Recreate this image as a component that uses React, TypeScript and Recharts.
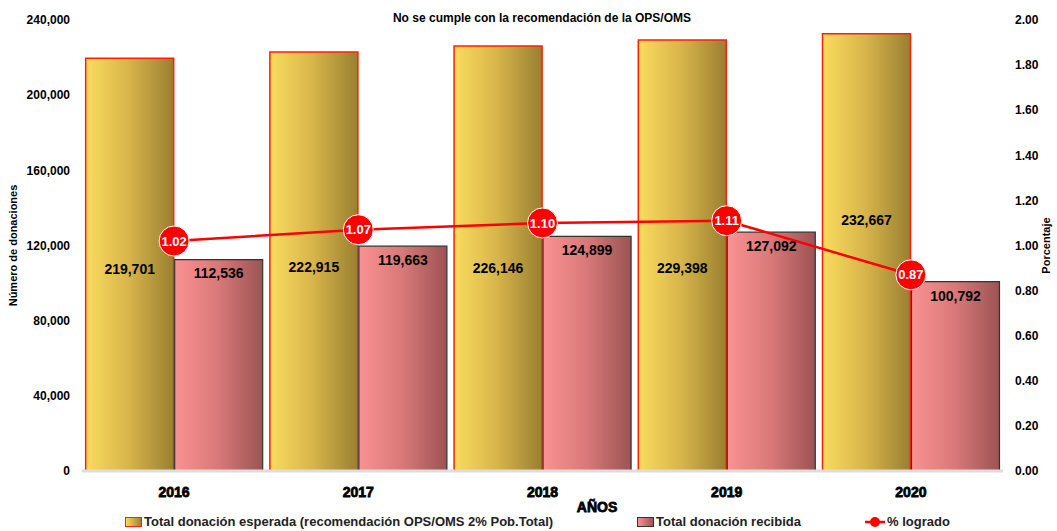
import React from 'react';
import {
  ComposedChart,
  Bar,
  Line,
  XAxis,
  YAxis,
  Legend,
  LabelList,
} from 'recharts';

const years = ['2016', '2017', '2018', '2019', '2020'];
const esperada = [219701, 222915, 226146, 229398, 232667];
const recibida = [112536, 119663, 124899, 127092, 100792];
const logrado = [1.02, 1.07, 1.1, 1.11, 0.87];
const leftTicks = [0, 40000, 80000, 120000, 160000, 200000, 240000];
const rightTicks = [0, 0.2, 0.4, 0.6, 0.8, 1.0, 1.2, 1.4, 1.6, 1.8, 2.0];

const data = years.map((year, i) => ({
  year,
  esperada: esperada[i],
  recibida: recibida[i],
  logrado: logrado[i],
}));

const FONT = '"Liberation Sans", Arial, sans-serif';

// manual nudges of the yellow bar labels (the last one sits higher, clear of the dot)
const esperadaLabelShift = [4, 5, 9, 13, -32];

const fmt = (v: number) => v.toLocaleString('en-US');

// big red dot with the value inside
const BigDot = (props: any) => {
  const { cx, cy } = props;
  if (cx == null || cy == null) return null;
  return <circle cx={cx} cy={cy} r={15} fill="#FF0000" stroke="#ffffff" strokeWidth={1} />;
};

const EsperadaLabel = (props: any) => {
  const { x, y, width, height, value, index } = props;
  const shift = esperadaLabelShift[index] || 0;
  return (
    <text
      x={x + width / 2}
      y={y + height / 2 + shift}
      textAnchor="middle"
      dominantBaseline="central"
      fontFamily={FONT}
      fontSize={14}
      fontWeight={700}
      fill="#000"
    >
      {fmt(value)}
    </text>
  );
};

const YearTick = (props: any) => {
  const { x, y, payload } = props;
  return (
    <text
      x={x}
      y={y + 18}
      textAnchor="middle"
      fontFamily={FONT}
      fontSize={14}
      fontWeight={700}
      fill="#000"
      stroke="#000"
      strokeWidth={0.8}
    >
      {payload.value}
    </text>
  );
};

const LegendContent = () => (
  <div
    style={{
      height: 22,
      fontFamily: FONT,
      fontSize: 13,
      fontWeight: 700,
      color: '#222',
      position: 'relative',
    }}
  >
    <span style={{ position: 'absolute', left: 125, top: 5, display: 'flex', alignItems: 'center' }}>
      <span
        style={{
          width: 15,
          height: 8,
          border: '1.5px solid #FF2000',
          background: 'linear-gradient(to right, #F8DA5C, #9C8232)',
          marginRight: 2,
        }}
      />
      Total donación esperada (recomendación OPS/OMS 2% Pob.Total)
    </span>
    <span style={{ position: 'absolute', left: 637, top: 5, display: 'flex', alignItems: 'center' }}>
      <span
        style={{
          width: 15,
          height: 8,
          border: '1.5px solid #333',
          background: 'linear-gradient(to right, #F99090, #9E5556)',
          marginRight: 2,
        }}
      />
      Total donación recibida
    </span>
    <span style={{ position: 'absolute', left: 865, top: 5, display: 'flex', alignItems: 'center' }}>
      <svg width={20} height={12} style={{ marginRight: 2 }}>
        <line x1={0} y1={6} x2={20} y2={6} stroke="#FF0000" strokeWidth={2.5} />
        <circle cx={10} cy={6} r={5} fill="#FF0000" />
      </svg>
      % logrado
    </span>
  </div>
);

export default function App() {
  return (
    <div style={{ position: 'absolute', left: 0, top: 0, width: 1057, height: 531, background: '#fff' }}>
      <div
        style={{
          position: 'absolute',
          top: 11,
          left: 0,
          width: 1084,
          textAlign: 'center',
          fontFamily: FONT,
          fontSize: 12,
          fontWeight: 700,
          color: '#000',
          zIndex: 2,
        }}
      >
        No se cumple con la recomendación de la OPS/OMS
      </div>
      <ComposedChart
        width={1057}
        height={531}
        data={data}
        margin={{ top: 20, right: 0, bottom: 0, left: 0 }}
        barCategoryGap="2%"
        barGap={1}
      >
        <defs>
          <linearGradient id="gradYellow" x1="0" y1="0" x2="1" y2="0">
            <stop offset="0%" stopColor="#FADC5E" />
            <stop offset="50%" stopColor="#D6B44A" />
            <stop offset="100%" stopColor="#9A7F30" />
          </linearGradient>
          <linearGradient id="gradPink" x1="0" y1="0" x2="1" y2="0">
            <stop offset="0%" stopColor="#FA9292" />
            <stop offset="50%" stopColor="#D97878" />
            <stop offset="100%" stopColor="#9C5354" />
          </linearGradient>
        </defs>
        <XAxis
          dataKey="year"
          axisLine={{ stroke: '#dddddd', strokeWidth: 3 }}
          tickLine={false}
          height={38}
          tick={<YearTick />}
          label={() => (
            <text
              x={597}
              y={512}
              textAnchor="middle"
              fontFamily={FONT}
              fontSize={14}
              fontWeight={700}
              fill="#000"
              stroke="#000"
              strokeWidth={0.8}
            >
              AÑOS
            </text>
          )}
        />
        <YAxis
          yAxisId="left"
          width={82}
          domain={[0, 240000]}
          ticks={leftTicks}
          axisLine={false}
          tickLine={false}
          tickFormatter={fmt}
          tick={{ fontFamily: FONT, fontSize: 12, fontWeight: 700, fill: '#000', dx: -4 }}
          label={{
            value: 'Número de donaciones',
            angle: -90,
            position: 'insideLeft',
            dx: 8,
            style: { fontFamily: FONT, fontSize: 11, fontWeight: 700, fill: '#000', textAnchor: 'middle' },
          }}
        />
        <YAxis
          yAxisId="right"
          orientation="right"
          width={54}
          domain={[0, 2]}
          ticks={rightTicks}
          axisLine={false}
          tickLine={false}
          tickFormatter={(v: number) => v.toFixed(2)}
          tick={{ fontFamily: FONT, fontSize: 12, fontWeight: 700, fill: '#000', dx: 4 }}
          label={{
            value: 'Porcentaje',
            angle: -90,
            position: 'insideRight',
            dx: -6,
            style: { fontFamily: FONT, fontSize: 11, fontWeight: 700, fill: '#000', textAnchor: 'middle' },
          }}
        />
        <Legend verticalAlign="bottom" height={22} content={<LegendContent />} />
        <Bar
          yAxisId="left"
          dataKey="esperada"
          fill="url(#gradYellow)"
          stroke="#FF2000"
          strokeWidth={1.5}
          isAnimationActive={false}
        >
          <LabelList dataKey="esperada" content={<EsperadaLabel />} />
        </Bar>
        <Bar
          yAxisId="left"
          dataKey="recibida"
          fill="url(#gradPink)"
          stroke="#333"
          strokeWidth={1.2}
          isAnimationActive={false}
        >
          <LabelList
            dataKey="recibida"
            position="insideTop"
            offset={9}
            formatter={(v: any) => fmt(v)}
            style={{ fontFamily: FONT, fontSize: 14, fontWeight: 700, fill: '#000' }}
          />
        </Bar>
        <Line
          yAxisId="right"
          dataKey="logrado"
          stroke="#FF0000"
          strokeWidth={2.5}
          dot={<BigDot />}
          activeDot={false}
          isAnimationActive={false}
        >
          <LabelList
            dataKey="logrado"
            position="center"
            formatter={(v: any) => Number(v).toFixed(2)}
            style={{ fontFamily: FONT, fontSize: 13, fontWeight: 700, fill: '#fff' }}
          />
        </Line>
      </ComposedChart>
    </div>
  );
}
